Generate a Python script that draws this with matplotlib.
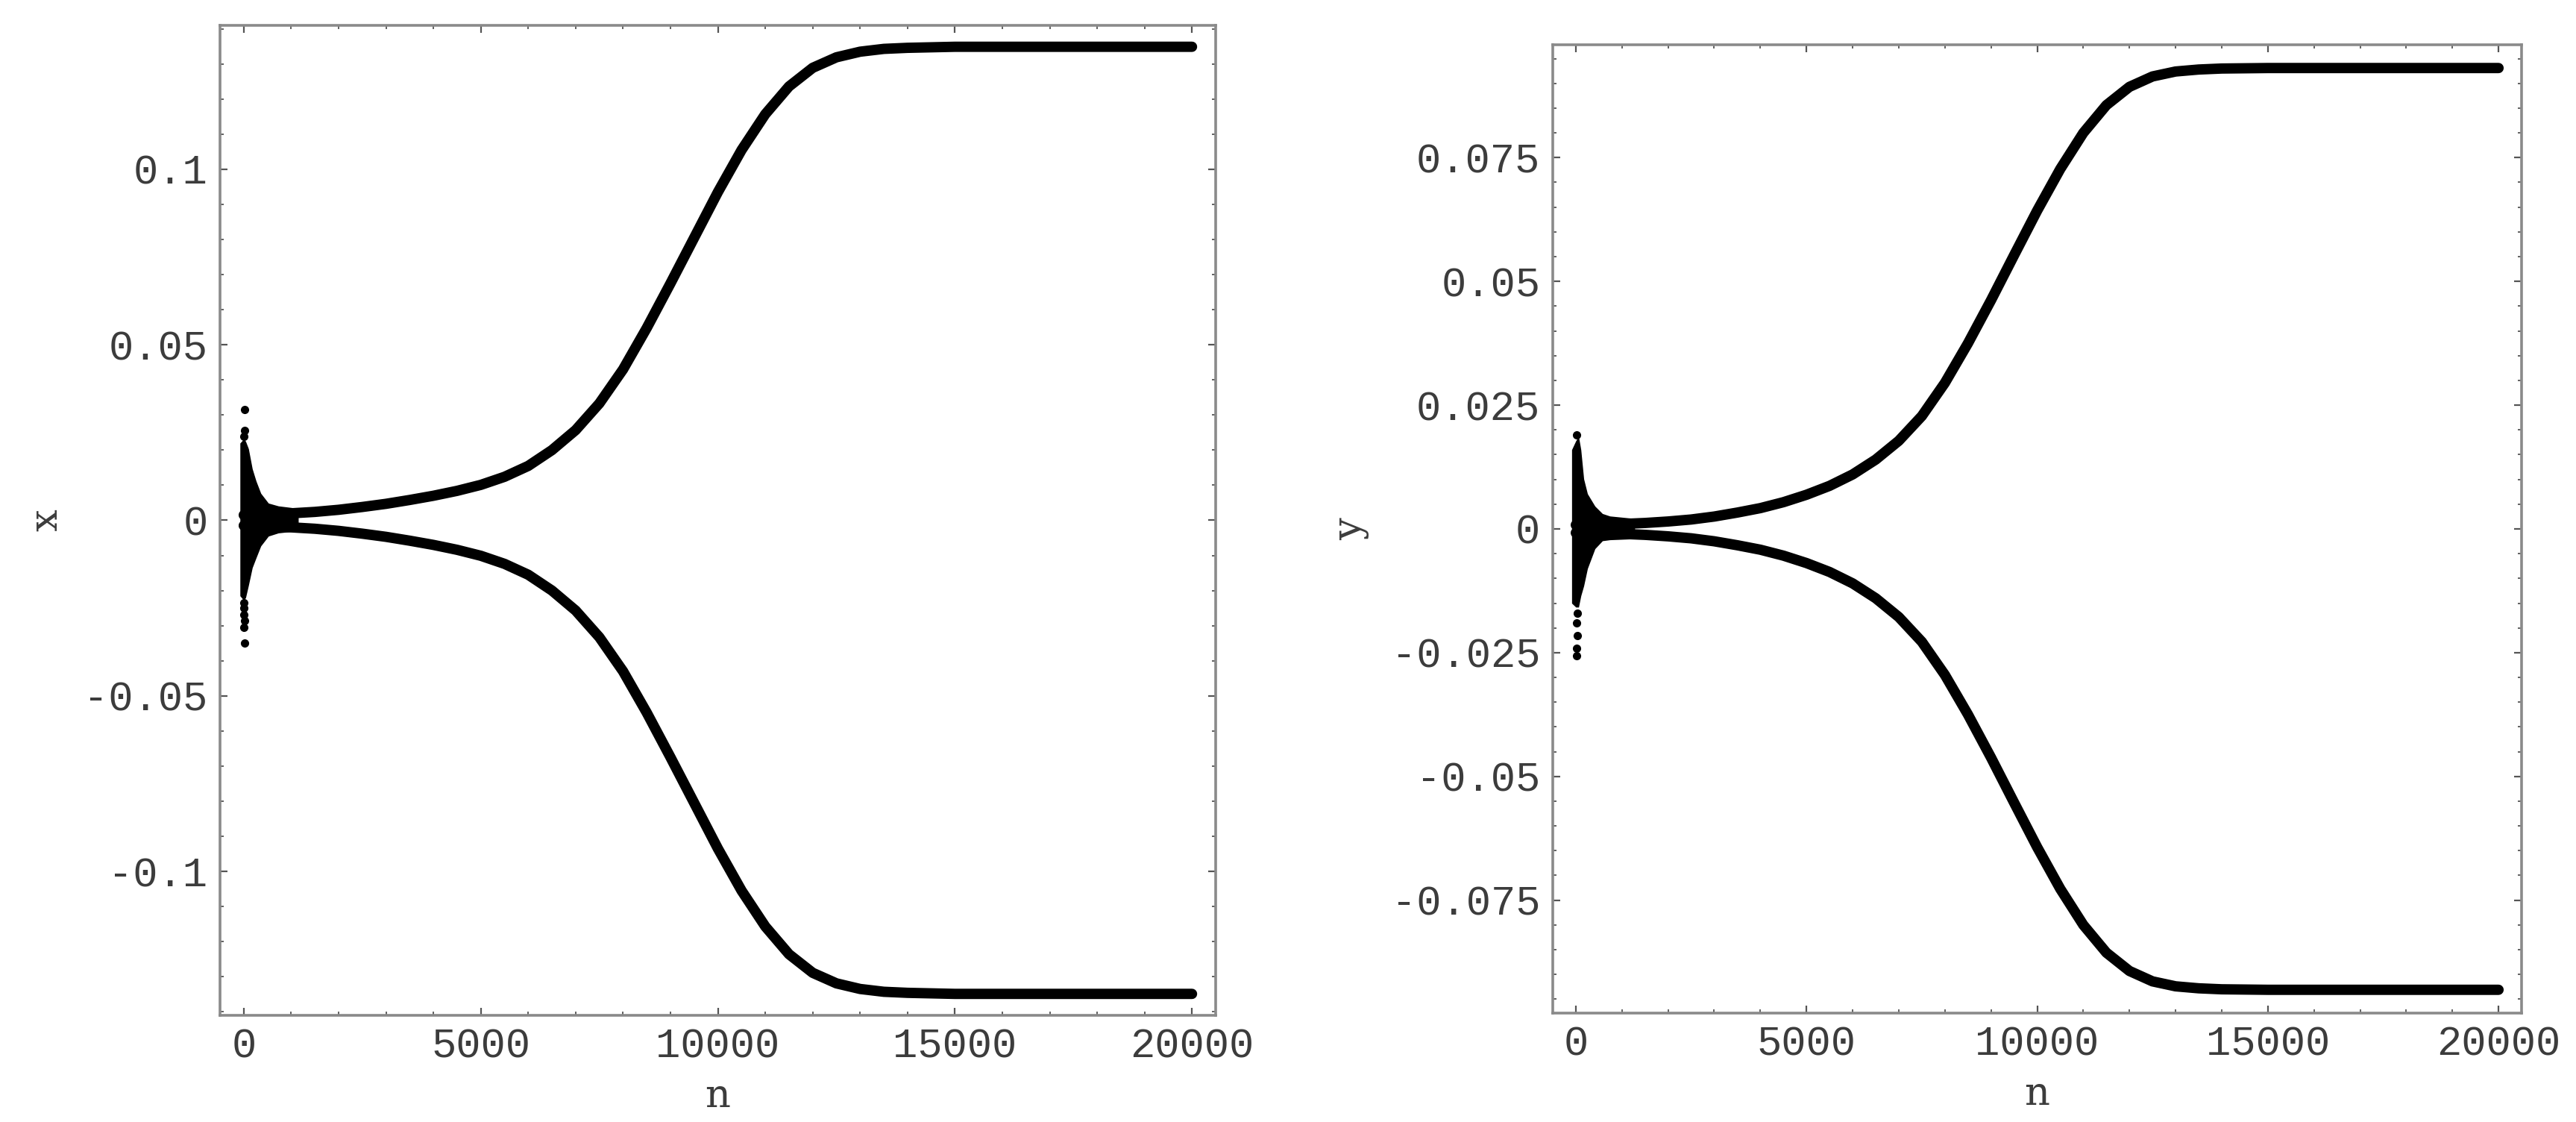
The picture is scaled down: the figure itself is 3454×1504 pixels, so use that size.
import matplotlib
matplotlib.use('Agg')
import matplotlib.pyplot as plt
import numpy as np

# ---- data ----
# branch curves, sampled in n
n_curve = [0, 500, 1000, 1500, 2000, 2500, 3000, 3500, 4000, 4500, 5000, 5500, 6000, 6500,
           7000, 7500, 8000, 8500, 9000, 9500, 10000, 10500, 11000, 11500, 12000, 12500,
           13000, 13500, 14000, 15000, 16000, 18000, 20000]

x_upper = [0.0015, 0.0017, 0.0020, 0.0024, 0.0030, 0.0038, 0.0047, 0.0058, 0.0070, 0.0084,
           0.0101, 0.0124, 0.0155, 0.0200, 0.0257, 0.0333, 0.0430, 0.0548, 0.0675, 0.0805,
           0.0935, 0.1055, 0.1157, 0.1236, 0.1289, 0.1319, 0.1335, 0.1343, 0.1346, 0.1349,
           0.1349, 0.1349, 0.1349]
x_lower = [-0.0015, -0.0017, -0.0020, -0.0024, -0.0030, -0.0038, -0.0047, -0.0058, -0.0070, -0.0084,
           -0.0101, -0.0124, -0.0155, -0.0200, -0.0257, -0.0333, -0.0430, -0.0548, -0.0675, -0.0805,
           -0.0935, -0.1055, -0.1157, -0.1236, -0.1289, -0.1319, -0.1335, -0.1343, -0.1346, -0.1349,
           -0.1349, -0.1349, -0.1349]

y_upper = [0.0008, 0.0009, 0.0010, 0.0012, 0.0015, 0.0019, 0.0025, 0.0033, 0.0042, 0.0054,
           0.0069, 0.0087, 0.0110, 0.0140, 0.0178, 0.0228, 0.0295, 0.0375, 0.0462, 0.0553,
           0.0643, 0.0727, 0.0800, 0.0856, 0.0893, 0.0914, 0.0924, 0.0928, 0.0930, 0.0931,
           0.0931, 0.0931, 0.0931]
y_lower = [-0.0008, -0.0009, -0.0010, -0.0012, -0.0015, -0.0019, -0.0025, -0.0033, -0.0042, -0.0054,
           -0.0069, -0.0087, -0.0110, -0.0140, -0.0178, -0.0228, -0.0295, -0.0375, -0.0462, -0.0553,
           -0.0643, -0.0727, -0.0800, -0.0856, -0.0893, -0.0914, -0.0924, -0.0928, -0.0930, -0.0931,
           -0.0931, -0.0931, -0.0931]

# transient burst at small n (outline of the dense cloud)
burst_n_x = [-80, 0, 40, 100, 180, 260, 360, 520, 730, 1150]
burst_hi_x = [0.0220, 0.0232, 0.0225, 0.0204, 0.0147, 0.0112, 0.0077, 0.0049, 0.0041, 0.0034]
burst_lo_x = [-0.0215, -0.0228, -0.0220, -0.0185, -0.0135, -0.0107, -0.0073, -0.0045, -0.0036, -0.0030]

burst_n_y = [-90, 0, 60, 110, 172, 253, 415, 577, 738, 1276]
burst_hi_y = [0.0160, 0.0178, 0.0187, 0.0160, 0.0101, 0.0071, 0.0046, 0.0031, 0.0026, 0.0021]
burst_lo_y = [-0.0150, -0.0158, -0.0158, -0.0135, -0.0115, -0.0080, -0.0040, -0.0024, -0.0022, -0.0020]

# isolated points of the burst
dots_n_x = [16, 16, 10, 0, 10, 0, 16, 0, 16]
dots_v_x = [0.0316, 0.0257, 0.0240, -0.0235, -0.0250, -0.0268, -0.0285, -0.0306, -0.0349]
dots_n_y = [30, 20, 30, 20, 20, 10]
dots_v_y = [-0.0170, -0.0190, -0.0216, -0.0241, -0.0256, 0.0190]

# axes setup
xticks = [0, 5000, 10000, 15000, 20000]
xticklabels = ['0', '5000', '10000', '15000', '20000']
yticks_L = [0.1, 0.05, 0, -0.05, -0.1]
yticklabels_L = ['0.1', '0.05', '0', '-0.05', '-0.1']
yticks_R = [0.075, 0.05, 0.025, 0, -0.025, -0.05, -0.075]
yticklabels_R = ['0.075', '0.05', '0.025', '0', '-0.025', '-0.05', '-0.075']

plt.rcParams['font.family'] = ['Liberation Mono', 'DejaVu Sans Mono']
FS = 40
SPINE = '#8a8a8a'
TEXT = '#3c3c3c'

fig = plt.figure(figsize=(34.55, 15.04), dpi=100)
axL = fig.add_axes([0.0854, 0.0951, 0.4718 - 0.0854, 0.9774 - 0.0951])
axR = fig.add_axes([0.6026, 0.0971, 0.9786 - 0.6026, 0.9601 - 0.0971])


def style(ax, yt, ytl, ymin_step, ylim, ylab, lab_x, lab_n):
    ax.set_xlim(-500, 20500)
    ax.set_xticks(xticks)
    ax.set_xticklabels(xticklabels)
    ax.set_xticks(np.arange(0, 20001, 1000), minor=True)
    ax.set_yticks(yt)
    ax.set_yticklabels(ytl)
    ax.set_yticks(np.arange(-0.15, 0.1501, ymin_step), minor=True)
    ax.set_ylim(-ylim, ylim)
    ax.tick_params(which='both', direction='in', top=True, right=True,
                   color='#555555', labelsize=FS, labelcolor=TEXT)
    ax.tick_params(which='major', length=7, width=1.6, pad=12)
    ax.tick_params(which='minor', length=3.5, width=1.3)
    for s in ax.spines.values():
        s.set_color(SPINE)
        s.set_linewidth(2.6)
    # axis labels are in a Courier-like serif face
    ax.set_xlabel('n', fontsize=38, color=TEXT, va='center', family='DejaVu Serif')
    ax.xaxis.set_label_coords(0.5, lab_n)
    ax.set_ylabel(ylab, fontsize=38, color=TEXT, va='center', family='DejaVu Serif')
    ax.yaxis.set_label_coords(lab_x, 0.5)


# left panel: x
axL.fill_between(burst_n_x, burst_lo_x, burst_hi_x, color='black', lw=0)
axL.plot(n_curve, x_upper, color='black', lw=10, solid_capstyle='round')
axL.plot(n_curve, x_lower, color='black', lw=10, solid_capstyle='round')
axL.plot(dots_n_x, dots_v_x, 'o', color='black', ms=7)
style(axL, yticks_L, yticklabels_L, 0.01, 0.141, 'x', -0.1745, -0.082)

# right panel: y
axR.fill_between(burst_n_y, burst_lo_y, burst_hi_y, color='black', lw=0)
axR.plot(n_curve, y_upper, color='black', lw=10, solid_capstyle='round')
axR.plot(n_curve, y_lower, color='black', lw=10, solid_capstyle='round')
axR.plot(dots_n_y, dots_v_y, 'o', color='black', ms=7)
style(axR, yticks_R, yticklabels_R, 0.005, 0.0978, 'y', -0.2086, -0.084)

plt.savefig('out.png', dpi=100)
